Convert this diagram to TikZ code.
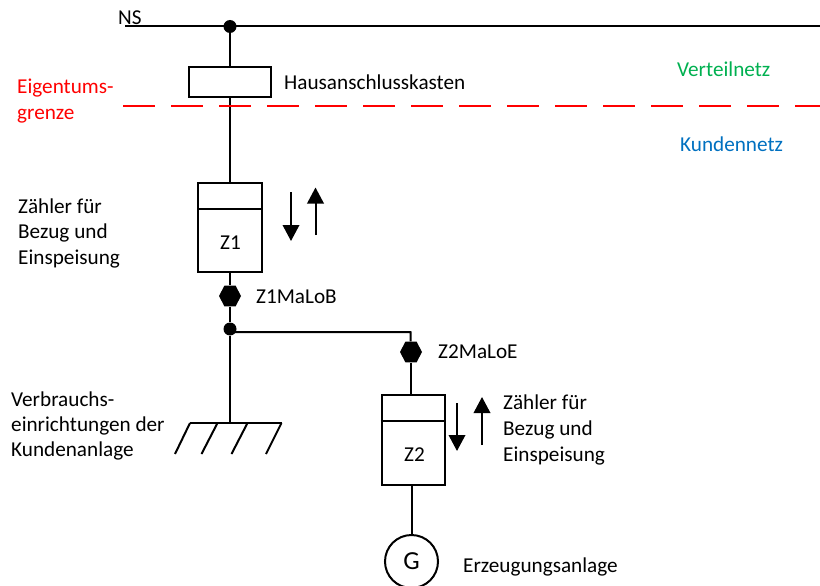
\documentclass[tikz,border=0pt]{standalone}
\usepackage{fontspec}
\setmainfont{Carlito}
\usetikzlibrary{shapes.geometric,arrows.meta}
\definecolor{redtxt}{RGB}{255,0,0}
\definecolor{greentxt}{RGB}{0,176,80}
\definecolor{bluetxt}{RGB}{0,112,192}
\tikzset{
  x=1pt,y=-1pt,
  wire/.style={draw=black,line width=2pt},
  lbl/.style={anchor=base west,inner sep=0pt,font=\fontsize{21.2}{26}\selectfont,align=left,text=#1},
  lbl/.default=black,
  dotnode/.style={circle,fill=black,draw=none,minimum size=#1,inner sep=0pt},
  hexnode/.style={regular polygon,regular polygon sides=6,fill=black,draw=none,minimum size=22pt,inner sep=0pt,yscale=1.1,transform shape},
  boxnode/.style={rectangle,wire,fill=white,inner sep=0pt},
  flow/.style={draw=black,line width=2pt,-{Triangle[length=16pt,width=16.5pt]}},
}
\begin{document}
\begin{tikzpicture}
\useasboundingbox (0,0) rectangle (820,586);
% coordinates
\coordinate (nsl) at (125,26.5);
\coordinate (nsr) at (820,26.5);
\node[dotnode=13pt] (ns) at (230,26.5) {};
\node[boxnode,minimum width=81.5pt,minimum height=30.5pt] (hak) at (230.2,82) {};
\node[boxnode,minimum width=64pt,minimum height=89pt] (z1) at (230.3,227.2) {};
\node[boxnode,minimum width=63.6pt,minimum height=90pt] (z2) at (413.5,440) {};
\node[hexnode] (h1) at (230,296) {};
\node[hexnode] (h2) at (411,352) {};
\node[dotnode=13pt] (j) at (230,329) {};
\coordinate (corner) at (410.5,332);
\coordinate (jr) at (230,332);
\coordinate (gt) at (230,423);
\coordinate (gl) at (190,423);
\coordinate (gr) at (281.5,423);
\node[circle,wire,minimum size=53pt,inner sep=0pt,font=\fontsize{26}{26}\selectfont] (g) at (411.5,561.5) {G};
% wires
\draw[wire] (nsl) -- (nsr);
\draw[wire] (ns) -- (hak.north -| ns);
\draw[wire] (hak.south -| ns) -- (z1.north -| ns);
\draw[wire] (z1.south -| ns) -- (h1);
\draw[wire] (h1) -- (j);
\draw[wire] (j) -- (gt);
\draw[wire] (jr) -- (corner) -- (h2);
\draw[wire] (h2) -- (z2.north -| h2);
\draw[wire] (z2.south -| g) -- (g);
\draw[wire] (z1.west |- 0,208.5) -- (z1.east |- 0,208.5);
\draw[wire] (z2.west |- 0,421) -- (z2.east |- 0,421);
% ground
\draw[wire] (gl) -- (gr);
\draw[wire] (gl) -- ++(-15,31);
\draw[wire] (217.5,423) -- ++(-16,31);
\draw[wire] (247.5,423) -- ++(-16,31);
\draw[wire] (gr) -- ++(-15.5,31);
% dashed boundary
\draw[draw=red,line width=2pt,dash pattern=on 32pt off 16pt] (123,106) -- (820,106);
% flow arrows
\draw[flow] (291,192) -- (291,241);
\draw[flow] (315.5,235) -- (315.5,187.5);
\draw[flow] (457,403) -- (457,451);
\draw[flow] (482,445) -- (482,397);
% labels
\node[lbl] (tns) at (118,24.5) {NS};
\node[lbl] (thak) at (284,89.5) {Hausanschlusskasten};
\node[lbl=greentxt] (tv) at (677,76.5) {Verteilnetz};
\node[lbl=bluetxt] (tk) at (680,151.5) {Kundennetz};
\node[lbl=redtxt] (te1) at (17,93.5) {Eigentums-};
\node[lbl=redtxt] (te2) at (17,119) {grenze};
\node[lbl] (ta1) at (18,213) {Zähler für};
\node[lbl] (ta2) at (18,238.5) {Bezug und};
\node[lbl] (ta3) at (18,264) {Einspeisung};
\node[lbl] (tz1) at (220,249) {Z1};
\node[lbl] (tm1) at (256,303) {Z1MaLoB};
\node[lbl] (tm2) at (438,358) {Z2MaLoE};
\node[lbl] (tb1) at (503,409.5) {Zähler für};
\node[lbl] (tb2) at (503,435) {Bezug und};
\node[lbl] (tb3) at (503,461) {Einspeisung};
\node[lbl] (tz2) at (404,461.5) {Z2};
\node[lbl] (tc1) at (11,406) {Verbrauchs-};
\node[lbl] (tc2) at (11,431) {einrichtungen der};
\node[lbl] (tc3) at (11,456) {Kundenanlage};
\node[lbl] (te) at (463,572.5) {Erzeugungsanlage};
\end{tikzpicture}
\end{document}
